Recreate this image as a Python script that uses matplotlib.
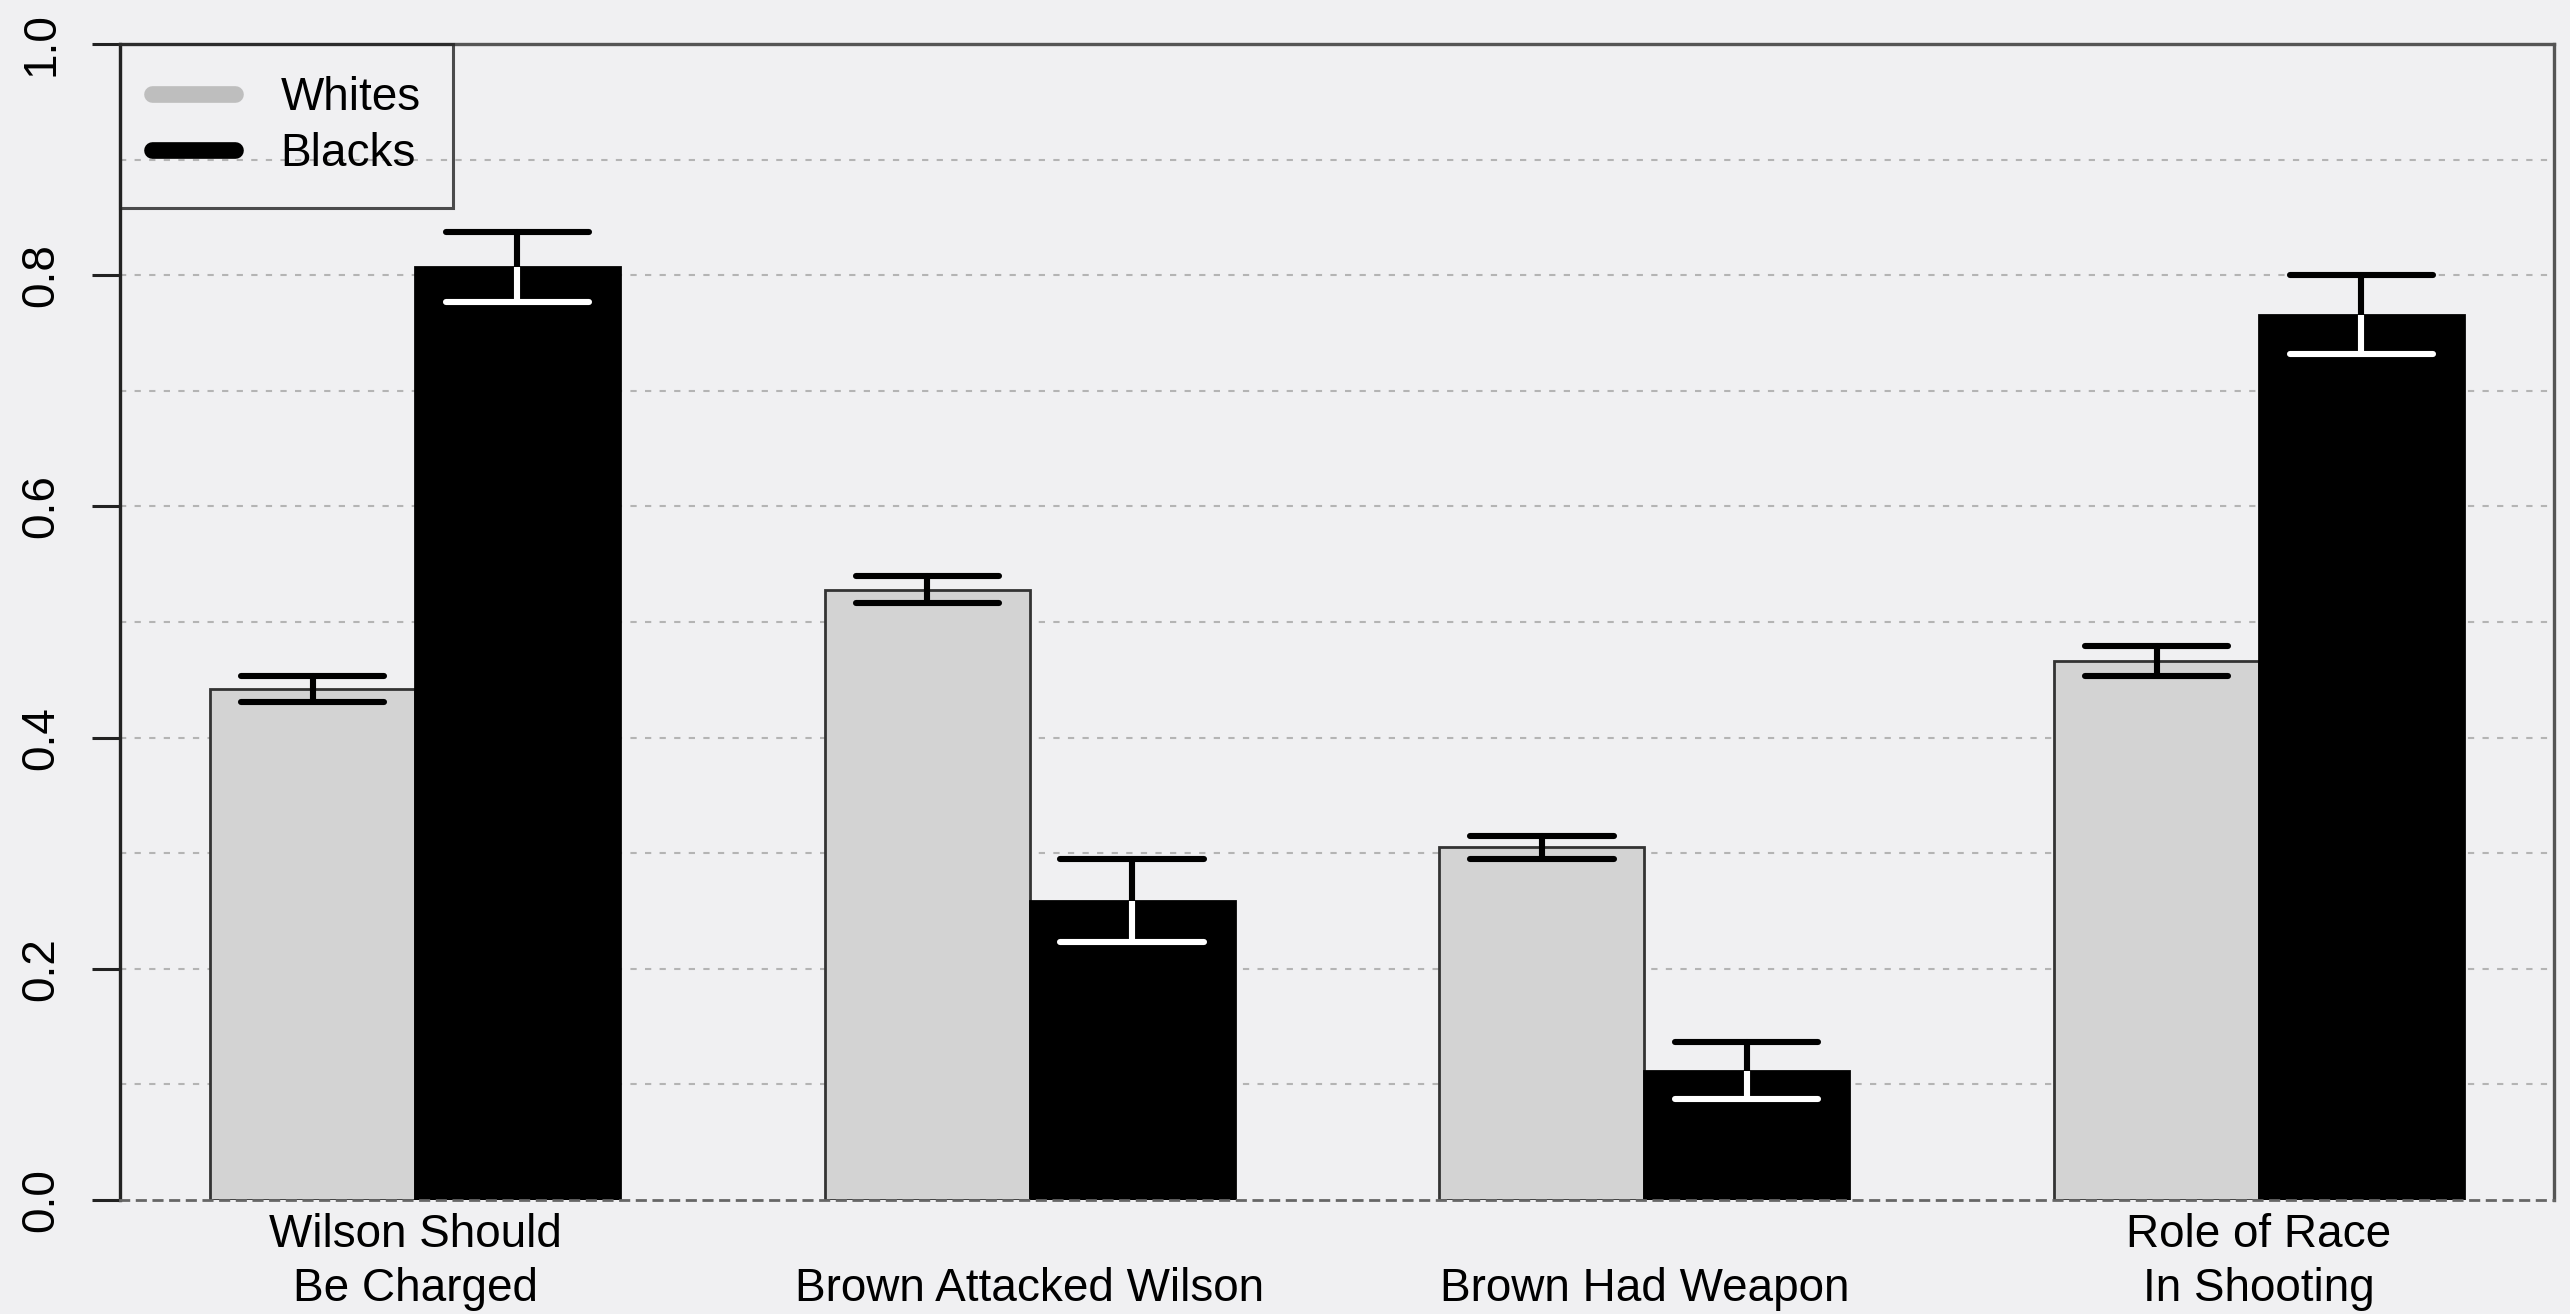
import matplotlib
matplotlib.use('Agg')
import matplotlib.pyplot as plt
import matplotlib.transforms as mtransforms
from matplotlib.lines import Line2D
import numpy as np

FONT_SIZE = 33
plt.rcParams.update({
    'font.family': ['Liberation Sans', 'DejaVu Sans'],
    'font.size': FONT_SIZE,
})

BG = '#f0f0f2'
WHITE_FILL = '#d3d3d3'
WHITE_KEY = '#bebebe'

categories = ['Wilson Should\nBe Charged', 'Brown Attacked Wilson',
              'Brown Had Weapon', 'Role of Race\nIn Shooting']
groups = ['Whites', 'Blacks']
whites_mean = [0.442, 0.528, 0.305, 0.466]
whites_err = [0.0115, 0.0115, 0.010, 0.013]
blacks_mean = [0.807, 0.259, 0.112, 0.766]
blacks_err = [0.030, 0.036, 0.0245, 0.0345]

W, H = 2570, 1314
fig = plt.figure(figsize=(W / 100, H / 100), dpi=100, facecolor=BG)
ax = fig.add_axes([120 / W, (H - 1200) / H, (2554 - 120) / W, (1200 - 44) / H])
ax.set_facecolor(BG)

# barplot layout: two unit-width bars per group, one unit gap between groups
x0 = np.arange(len(categories)) * 3.0
x_w = x0 + 0.5
x_b = x0 + 1.5

ax.bar(x0, whites_mean, width=1.0, align='edge', color=WHITE_FILL,
       edgecolor='#333333', linewidth=2.0, zorder=2)
ax.bar(x0 + 1, blacks_mean, width=1.0, align='edge', color='black',
       edgecolor='black', linewidth=2.0, zorder=2)

ERR_LW = 4.4
CAP = 0.35


def draw_err(xs, means, errs, lower_color):
    xs = np.asarray(xs)
    m = np.asarray(means)
    e = np.asarray(errs)
    # upper half sits above the bar, lower half inside it
    ax.vlines(xs, m, m + e, color='black', lw=ERR_LW, capstyle='round', zorder=4)
    ax.hlines(m + e, xs - CAP, xs + CAP, color='black', lw=ERR_LW,
              capstyle='round', zorder=4)
    ax.vlines(xs, m - e, m, color=lower_color, lw=ERR_LW, capstyle='butt', zorder=4)
    ax.hlines(m - e, xs - CAP, xs + CAP, color=lower_color, lw=ERR_LW,
              capstyle='round', zorder=4)


draw_err(x_w, whites_mean, whites_err, 'black')
draw_err(x_b, blacks_mean, blacks_err, 'white')

ax.set_xlim(-0.44, 11.44)
ax.set_ylim(0, 1)

ax.set_yticks(np.arange(0, 1.01, 0.2))
ax.set_yticklabels([f'{v:.1f}' for v in np.arange(0, 1.01, 0.2)],
                   rotation=90, va='center')
ax.tick_params(axis='y', which='major', length=20, width=2.2, pad=21,
               labelsize=FONT_SIZE, color='#222222')
ax.set_xticks([])

for y in np.arange(0.1, 0.95, 0.1):
    ax.axhline(y, color='#b4b4b4', lw=1.5, linestyle=(0, (3, 4)), zorder=1)

ax.spines['left'].set_color('#222222')
ax.spines['left'].set_linewidth(2.4)
for side in ('top', 'right'):
    ax.spines[side].set_color('#555555')
    ax.spines[side].set_linewidth(2.4)
ax.spines['bottom'].set_color('#666666')
ax.spines['bottom'].set_linewidth(2.0)
ax.spines['bottom'].set_linestyle((0, (3, 3)))

# category labels share the baseline of their last line
trans = mtransforms.blended_transform_factory(ax.transData, fig.transFigure)
for xc, lab in zip(x0 + 1, categories):
    ax.text(xc, 3 / H, lab, transform=trans, ha='center', va='bottom',
            fontsize=FONT_SIZE, linespacing=1.28)

handles = [Line2D([], [], color=WHITE_KEY, lw=12, solid_capstyle='round'),
           Line2D([], [], color='black', lw=12, solid_capstyle='round')]
leg = ax.legend(handles, groups, loc='upper left', bbox_to_anchor=(0, 1),
                borderaxespad=0, fancybox=False, frameon=True,
                handlelength=1.8, handletextpad=1.0, borderpad=0.7,
                labelspacing=0.25, fontsize=FONT_SIZE)
leg.get_frame().set_facecolor('none')
leg.get_frame().set_edgecolor('#222222')
leg.get_frame().set_linewidth(2.2)

fig.savefig('out.png', dpi=100, facecolor=BG)
